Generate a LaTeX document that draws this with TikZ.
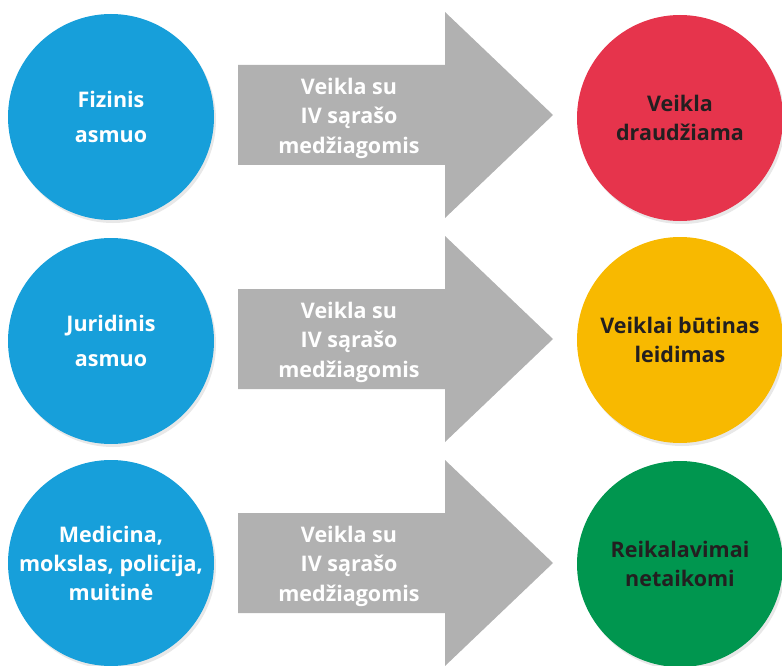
\documentclass[tikz,border=0pt]{standalone}
\usepackage{fontspec}
\setmainfont{Open Sans}
\usetikzlibrary{positioning, shadows}
\definecolor{person}{HTML}{179FDA}
\definecolor{banned}{HTML}{E6344C}
\definecolor{permit}{HTML}{F8B900}
\definecolor{free}{HTML}{00964F}
\definecolor{flow}{HTML}{B1B1B1}
\definecolor{ink}{HTML}{231F20}
\tikzstyle{disc} = [circle, minimum size=206pt, inner sep=0pt, align=center, font=\bfseries\fontsize{21.5}{29}\selectfont, drop shadow={opacity=0.18, shadow xshift=2pt, shadow yshift=-3pt}]
\tikzstyle{who} = [disc, fill=person, text=white]
\tikzstyle{result} = [disc, text=ink]
\tikzstyle{flowtext} = [align=center, text=white, font=\bfseries\fontsize{21.5}{29.5}\selectfont]
\tikzstyle{bigarrow} = [fill=flow]

\begin{document}
\begin{tikzpicture}[x=1pt, y=-1pt]
    \useasboundingbox (0,0) rectangle (782,666);

    % Who acts
    \node (fiz) [who] at (111,117) {Fizinis\\[6pt]asmuo};
    \node (jur) [who] at (111,341) {Juridinis\\[6pt]asmuo};
    \node (med) [who] at (111,563) {Medicina,\\mokslas, policija,\\muitinė};

    % Arrows
    \fill [bigarrow] (238,65) -- (445,65) -- (445,12) -- (553,115) -- (445,218) -- (445,165) -- (238,165) -- cycle;
    \fill [bigarrow] (238,289) -- (445,289) -- (445,236) -- (553,339) -- (445,442) -- (445,389) -- (238,389) -- cycle;
    \fill [bigarrow] (238,513) -- (445,513) -- (445,460) -- (553,563) -- (445,666) -- (445,613) -- (238,613) -- cycle;
    \node (act1) [flowtext] at (349,118) {Veikla su\\IV sąrašo\\medžiagomis};
    \node (act2) [flowtext] at (349,342) {Veikla su\\IV sąrašo\\medžiagomis};
    \node (act3) [flowtext] at (349,566) {Veikla su\\IV sąrašo\\medžiagomis};

    % Outcome
    \node (ban) [result, fill=banned] at (680,118) {Veikla\\draudžiama};
    \node (lic) [result, fill=permit] at (680,340) {Veiklai būtinas\\leidimas};
    \node (non) [result, fill=free] at (680,564) {Reikalavimai\\netaikomi};

\end{tikzpicture}
\end{document}
